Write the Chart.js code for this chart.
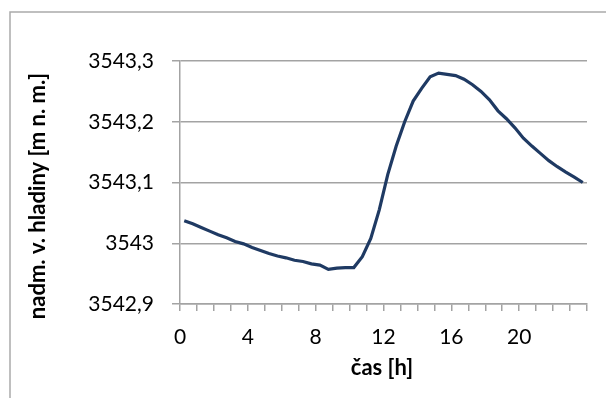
<!DOCTYPE html>
<html><head><meta charset="utf-8">
<script src="https://cdn.jsdelivr.net/npm/chart.js@4/dist/chart.umd.min.js"></script>
<style>html,body{margin:0;padding:0;background:#fff;}#wrap{position:relative;width:606px;height:398px;}</style>
</head><body><div id="wrap"><canvas id="c" width="606" height="398"></canvas></div>
<script>
const hours = [0.25,0.75,1.25,1.75,2.25,2.75,3.25,3.75,4.25,4.75,5.25,5.75,6.25,6.75,7.25,7.75,8.25,8.75,9.25,9.75,10.25,10.75,11.25,11.75,12.25,12.75,13.25,13.75,14.25,14.75,15.25,15.75,16.25,16.75,17.25,17.75,18.25,18.75,19.25,19.75,20.25,20.75,21.25,21.75,22.25,22.75,23.25,23.75];
const levels = [3543.037,3543.032,3543.026,3543.020,3543.014,3543.009,3543.003,3542.999,3542.993,3542.988,3542.983,3542.979,3542.976,3542.972,3542.970,3542.966,3542.964,3542.957,3542.959,3542.960,3542.960,3542.978,3543.008,3543.055,3543.113,3543.160,3543.200,3543.234,3543.255,3543.274,3543.280,3543.278,3543.276,3543.270,3543.261,3543.250,3543.236,3543.218,3543.205,3543.190,3543.173,3543.160,3543.148,3543.136,3543.126,3543.117,3543.109,3543.100];
const yTicks = [3542.9, 3543.0, 3543.1, 3543.2, 3543.3];
const xLabels = [0, 4, 8, 12, 16, 20];
const xTitle = 'čas [h]';
const yTitle = 'nadm. v. hladiny [m n. m.]';

const GRAY = '#a3a3a3';
const FONT = 'Lato';

const decor = {
  id: 'decor',
  afterDraw(chart) {
    const ctx = chart.ctx;
    ctx.save();
    ctx.strokeStyle = '#ababab';
    ctx.lineWidth = 1.5;
    ctx.beginPath();
    ctx.moveTo(10, 398);
    ctx.lineTo(10, 12);
    ctx.lineTo(606, 12);
    ctx.stroke();
    ctx.fillStyle = '#000';
    ctx.textAlign = 'center';
    ctx.textBaseline = 'middle';
    ctx.font = 'bold 22px ' + FONT;
    ctx.fillText(xTitle, 382, 368);
    ctx.translate(38, 196);
    ctx.rotate(-Math.PI / 2);
    ctx.font = 'bold 22px ' + FONT;
    ctx.fillText(yTitle, 0, 0);
    ctx.restore();
  }
};

function draw() {
  new Chart(document.getElementById('c'), {
    type: 'line',
    data: {
      datasets: [{
        data: hours.map((h, i) => ({x: h, y: levels[i]})),
        borderColor: '#1f3a63',
        borderWidth: 3.2,
        pointRadius: 0,
        tension: 0,
        fill: false
      }]
    },
    options: {
      responsive: false,
      animation: false,
      devicePixelRatio: 1,
      layout: {padding: {top: 61, right: 19, left: 0, bottom: 0}},
      plugins: {legend: {display: false}, tooltip: {enabled: false}},
      scales: {
        x: {
          type: 'linear', min: 0, max: 24,
          afterBuildTicks(s) { const t = []; for (let v = 0; v <= 24; v++) t.push({value: v}); s.ticks = t; },
          afterFit(s) { s.height = 94; },
          ticks: {
            autoSkip: false, maxRotation: 0, padding: 14, color: '#000',
            font: {family: FONT, size: 21},
            callback: v => xLabels.includes(v) ? String(v) : ''
          },
          grid: {drawOnChartArea: false, drawTicks: true, tickLength: 7, color: GRAY, lineWidth: 1.5},
          border: {color: GRAY, width: 1.5}
        },
        y: {
          min: 3542.9, max: 3543.3,
          afterBuildTicks(s) { s.ticks = yTicks.map(v => ({value: v})); },
          afterFit(s) { s.width = 180; },
          ticks: {
            padding: 18, color: '#000',
            font: {family: FONT, size: 21},
            callback: v => (Math.round(v * 10) / 10).toString().replace('.', ',')
          },
          grid: {color: GRAY, lineWidth: 1.5, tickLength: 8},
          border: {color: GRAY, width: 1.5}
        }
      }
    },
    plugins: [decor]
  });
}
const ready = document.fonts ? Promise.all([document.fonts.load('21px Lato'), document.fonts.load('bold 22px Lato')]) : Promise.resolve();
ready.then(draw, draw);
</script></body></html>
